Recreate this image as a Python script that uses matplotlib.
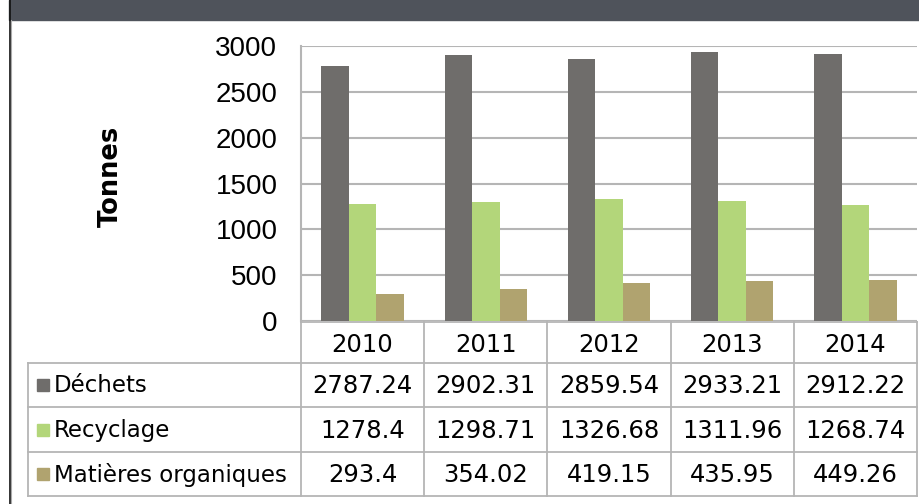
import matplotlib
matplotlib.use('Agg')
import matplotlib.pyplot as plt
import matplotlib.transforms as mtransforms
from matplotlib.patches import Rectangle
from matplotlib.lines import Line2D
import numpy as np

years = ['2010', '2011', '2012', '2013', '2014']
series = ['Déchets', 'Recyclage', 'Matières organiques']
dechets = [2787.24, 2902.31, 2859.54, 2933.21, 2912.22]
recyclage = [1278.4, 1298.71, 1326.68, 1311.96, 1268.74]
organiques = [293.4, 354.02, 419.15, 435.95, 449.26]
values = [dechets, recyclage, organiques]
yticks = [0, 500, 1000, 1500, 2000, 2500, 3000]

colors = ['#6f6d6b', '#b3d67a', '#b0a36f']
grid_col = '#b5b5b5'

W, H = 919, 504
fig = plt.figure(figsize=(W / 100, H / 100), dpi=100)


def fx(px):
    return px / W


def fy(py):
    return 1 - py / H


# frame decorations (dark band at top, left border)
fig.patches.append(Rectangle((fx(9), fy(20)), fx(910), 20 / H, transform=fig.transFigure,
                             color='#4f535b', zorder=0))
fig.lines.append(Line2D([fx(9.5), fx(9.5)], [0, 1], transform=fig.transFigure, color='#111111', lw=1.2))
fig.lines.append(Line2D([fx(11), fx(11)], [0, fy(20)], transform=fig.transFigure, color='#aaaaaa', lw=0.8))

ax = fig.add_axes([fx(301), fy(321), fx(917) - fx(301), (321 - 46) / H])
x = np.arange(len(years))
width = 0.223
for i, (name, vals) in enumerate(zip(series, values)):
    ax.bar(x + (i - 1) * width, vals, width, color=colors[i], zorder=3, label=name)

ax.set_xlim(-0.5, len(years) - 0.5)
ax.set_ylim(0, 3000)
ax.set_yticks(yticks)
ax.set_yticklabels([str(t) for t in yticks], fontsize=20, family='Liberation Sans')
ax.tick_params(axis='y', length=0, pad=17)
ax.set_xticks([])
ax.yaxis.grid(True, color=grid_col, lw=1.5, zorder=0)
for s in ['right', 'bottom', 'top']:
    ax.spines[s].set_visible(False)
ax.spines['left'].set_color(grid_col)
ax.spines['left'].set_linewidth(1.5)

fig.text(fx(111), fy(176), 'Tonnes', rotation=90, ha='center', va='center',
         fontsize=18.5, fontweight='bold')

# data table under the chart
blend = mtransforms.blended_transform_factory(ax.transData, fig.transFigure)
row_edges = [322, 363, 407, 452, 496]
lw_t = 1.3
tab_kw = dict(color=grid_col, lw=lw_t, clip_on=False)

# horizontal lines
ax.plot([-0.5, len(years) - 0.5], [fy(row_edges[0])] * 2, transform=blend, **tab_kw)
for r in row_edges[1:]:
    fig.lines.append(Line2D([fx(28), fx(917)], [fy(r)] * 2, transform=fig.transFigure,
                            color=grid_col, lw=lw_t))
# vertical lines
fig.lines.append(Line2D([fx(28), fx(28)], [fy(row_edges[1]), fy(row_edges[-1])],
                        transform=fig.transFigure, color=grid_col, lw=lw_t))
for k in range(len(years) + 1):
    ax.plot([k - 0.5, k - 0.5], [fy(row_edges[0]), fy(row_edges[-1])], transform=blend, **tab_kw)

nfs = 17.5  # numbers
lfs = 16.5  # row labels
for j, yr in enumerate(years):
    ax.text(j, fy((row_edges[0] + row_edges[1]) / 2 + 2), yr, transform=blend,
            ha='center', va='center', fontsize=nfs)
for i, (name, vals) in enumerate(zip(series, values)):
    yc = (row_edges[i + 1] + row_edges[i + 2]) / 2
    fig.patches.append(Rectangle((fx(37), fy(yc + 6)), 12 / W, 12 / H,
                                 transform=fig.transFigure, color=colors[i]))
    fig.text(fx(54), fy(yc + 1), name, ha='left', va='center', fontsize=lfs)
    for j, v in enumerate(vals):
        ax.text(j, fy(yc + 1), '{:g}'.format(v), transform=blend,
                ha='center', va='center', fontsize=nfs)

fig.savefig('out.png', dpi=100)
